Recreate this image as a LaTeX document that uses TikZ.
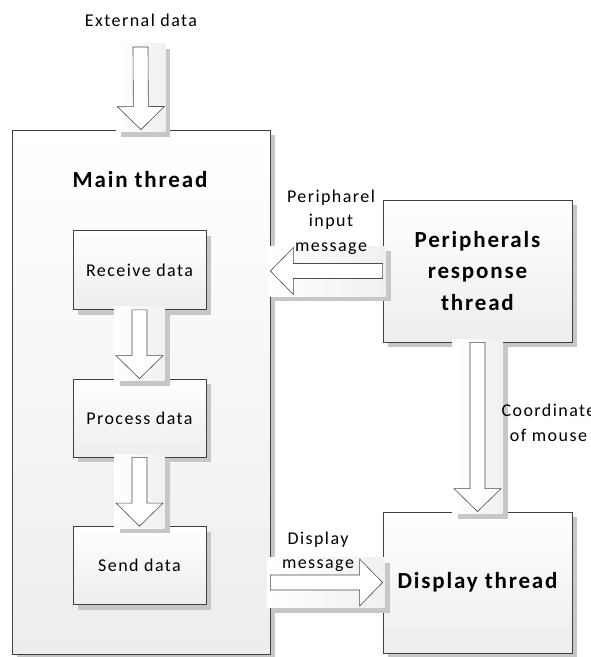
\documentclass[tikz,border=0pt]{standalone}
\usepackage{fontspec}
\setmainfont{Carlito}[LetterSpace=8]
\usetikzlibrary{positioning,calc,shadows}

\tikzset{
  box/.style={draw=black!75, line width=0.8pt, top color=white, bottom color=black!7,
    drop shadow={shadow xshift=5pt, shadow yshift=-5pt, fill=black!22, opacity=1},
    inner sep=0pt, align=center, font=\fontsize{18}{25}\selectfont},
  title/.style={font=\bfseries\fontsize{23}{31.5}\selectfont},
  lbl/.style={align=center, inner sep=0pt, font=\fontsize{18}{24.5}\selectfont},
  arrowbg/.style={left color=white, right color=black!6},
  arrowshadow/.style={fill=black!22},
  arrowbody/.style={draw=black!70, line width=0.6pt, fill=white, line join=miter},
}

% hollow block arrow from #1 (tail) to #2 (tip), with its shaded backing plate
\newcommand{\blockarrow}[2]{%
  \coordinate (ba-t) at (#1);
  \coordinate (ba-h) at (#2);
  \coordinate (ba-b) at ($(ba-h)!23pt!(ba-t)$);
  \coordinate (ba-tt) at ($(ba-t)!-3pt!(ba-h)$);
  \coordinate (ba-hh) at ($(ba-h)!-2pt!(ba-t)$);
  \fill[arrowshadow] ($($(ba-tt)!25pt!90:(ba-hh)$)+(5pt,-5pt)$) rectangle ($($(ba-hh)!25pt!90:(ba-tt)$)+(5pt,-5pt)$);
  \path[arrowbg] ($(ba-tt)!25pt!90:(ba-hh)$) rectangle ($(ba-hh)!25pt!90:(ba-tt)$);
  \draw[arrowbody] ($(ba-t)!7.5pt!90:(ba-h)$) -- ($(ba-b)!7.5pt!90:(ba-h)$)
    -- ($(ba-b)!23.5pt!90:(ba-h)$) -- (ba-h) -- ($(ba-b)!23.5pt!-90:(ba-h)$)
    -- ($(ba-b)!7.5pt!-90:(ba-h)$) -- ($(ba-t)!7.5pt!-90:(ba-h)$) -- cycle;
}

\begin{document}
\begin{tikzpicture}[x=1pt, y=-1pt]
\useasboundingbox (0,0) rectangle (591,657);
\fill[white] (0,0) rectangle (591,657);

% thread boxes
\node[box, minimum width=258pt, minimum height=524pt] (main) at (141,392) {};
\node[title, anchor=base] (maintitle) at (140,187) {Main thread};
\node[box, minimum width=133pt, minimum height=79pt] (recv) at (139.5,270) {Receive data};
\node[box, minimum width=133pt, minimum height=78pt] (proc) at (139.5,418) {Process data};
\node[box, minimum width=133pt, minimum height=78pt] (send) at (139.5,565.5) {Send data};
\node[box, title, minimum width=189pt, minimum height=142pt] (periph) at (477.5,271) {Peripherals\\response\\thread};
\node[box, title, minimum width=189pt, minimum height=141pt] (disp) at (477.5,582.5) {Display thread};

% source of the external data
\node[lbl, anchor=base] (extlbl) at (141,26) {External data};
\coordinate (extsrc) at (140.5,47);

% block arrows
\blockarrow{extsrc}{main.north}
\blockarrow{recv.south}{proc.north}
\blockarrow{proc.south}{send.north}
\blockarrow{periph.west}{periph.west -| main.east}
\blockarrow{periph.south}{disp.north}
\blockarrow{disp.west -| main.east}{disp.west}

% arrow labels (on top of the backing plates)
\node[lbl] (pinlbl) at (331,222) {Peripharel\\input\\message};
\node[lbl] (coordlbl) at (548.5,423) {Coordinate\\of mouse};
\node[lbl] (displbl) at (318,552) {Display\\message};
\end{tikzpicture}
\end{document}
